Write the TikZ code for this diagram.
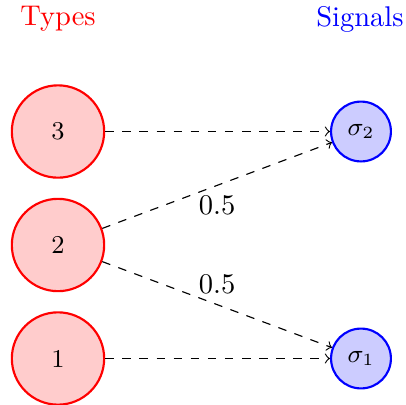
\documentclass[tikz,border=0pt]{standalone}
\begin{document}
\begin{tikzpicture}[x=0.3509pt, y=-0.3509pt,
  typenode/.style={circle, draw=red, fill=red!20, line width=0.75pt, minimum size=32.4pt, inner sep=0pt, font=\small},
  signode/.style={circle, draw=blue, fill=blue!20, line width=0.75pt, minimum size=21pt, inner sep=0pt, font=\small},
  link/.style={dashed, ->}]
  \useasboundingbox (0,0) rectangle (406,405);
  % column headers
  \node[red]  (htypes) at (58,19)  {Types};
  \node[blue] (hsigs)  at (360,19) {Signals};
  % type nodes
  \node[typenode] (t3) at (58,131.5) {3};
  \node[typenode] (t2) at (58,245) {2};
  \node[typenode] (t1) at (58,358.5) {1};
  % signal nodes
  \node[signode] (s2) at (361,131.5) {$\sigma_2$};
  \node[signode] (s1) at (361,358.5) {$\sigma_1$};
  % transitions
  \draw[link] (t3) -- (s2);
  \draw[link] (t2) -- node[below] {0.5} (s2);
  \draw[link] (t2) -- node[above] {0.5} (s1);
  \draw[link] (t1) -- (s1);
\end{tikzpicture}
\end{document}
